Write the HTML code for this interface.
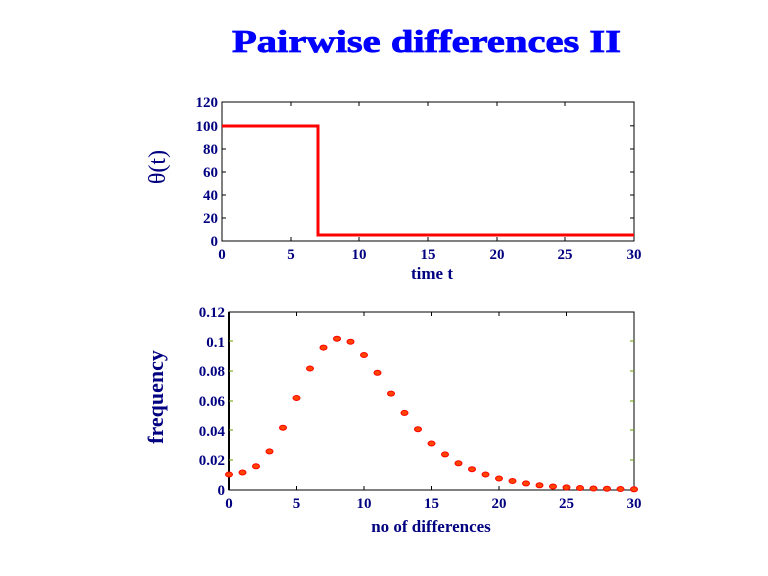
<!DOCTYPE html>
<html><head><meta charset="utf-8"><style>body{margin:0;background:#fff}svg{display:block}</style></head><body>
<svg width="768" height="576" viewBox="0 0 768 576" xmlns="http://www.w3.org/2000/svg" font-family="Liberation Serif, serif" font-weight="bold">
<text x="232" y="52" font-size="32" fill="#0000ff" stroke="#0000ff" stroke-width="0.8" textLength="389" lengthAdjust="spacingAndGlyphs">Pairwise differences II</text>
<!-- top plot -->
<rect x="222" y="102" width="412" height="139" fill="none" stroke="#000" stroke-width="1"/>
<g stroke="#000" stroke-width="1">
<line x1="222" y1="125.8" x2="226" y2="125.8"/><line x1="222" y1="149" x2="226" y2="149"/><line x1="222" y1="172" x2="226" y2="172"/><line x1="222" y1="195" x2="226" y2="195"/><line x1="222" y1="218" x2="226" y2="218"/>
<line x1="634" y1="125.8" x2="630" y2="125.8"/><line x1="634" y1="149" x2="630" y2="149"/><line x1="634" y1="172" x2="630" y2="172"/><line x1="634" y1="195" x2="630" y2="195"/><line x1="634" y1="218" x2="630" y2="218"/>
<line x1="291" y1="241" x2="291" y2="237"/><line x1="359" y1="241" x2="359" y2="237"/><line x1="428" y1="241" x2="428" y2="237"/><line x1="497" y1="241" x2="497" y2="237"/><line x1="565" y1="241" x2="565" y2="237"/>
<line x1="291" y1="102" x2="291" y2="106"/><line x1="359" y1="102" x2="359" y2="106"/><line x1="428" y1="102" x2="428" y2="106"/><line x1="497" y1="102" x2="497" y2="106"/><line x1="565" y1="102" x2="565" y2="106"/>
</g>
<polyline points="222,126 318,126 318,235 634,235" fill="none" stroke="#ff0000" stroke-width="3"/>
<g font-size="15" fill="#000080" text-anchor="end">
<text x="218" y="107">120</text><text x="218" y="131">100</text><text x="218" y="154">80</text><text x="218" y="177">60</text><text x="218" y="200">40</text><text x="218" y="223">20</text><text x="218" y="246">0</text>
</g>
<g font-size="15" fill="#000080" text-anchor="middle">
<text x="222" y="259">0</text><text x="291" y="259">5</text><text x="359" y="259">10</text><text x="428" y="259">15</text><text x="497" y="259">20</text><text x="565" y="259">25</text><text x="634" y="259">30</text>
</g>
<text x="432" y="279" font-size="17" fill="#000080" text-anchor="middle">time t</text>
<text transform="translate(165,167) rotate(-90)" font-size="24" font-weight="normal" fill="#000080" text-anchor="middle">θ(t)</text>
<!-- bottom plot -->
<rect x="229" y="312" width="405" height="178" fill="none" stroke="#000" stroke-width="1"/>
<line x1="229" y1="312" x2="229" y2="490" stroke="#000" stroke-width="2"/>
<g stroke="#000" stroke-width="1">
<line x1="296.5" y1="490" x2="296.5" y2="486"/><line x1="364" y1="490" x2="364" y2="486"/><line x1="431.5" y1="490" x2="431.5" y2="486"/><line x1="499" y1="490" x2="499" y2="486"/><line x1="566.5" y1="490" x2="566.5" y2="486"/>
<line x1="296.5" y1="312" x2="296.5" y2="316"/><line x1="364" y1="312" x2="364" y2="316"/><line x1="431.5" y1="312" x2="431.5" y2="316"/><line x1="499" y1="312" x2="499" y2="316"/><line x1="566.5" y1="312" x2="566.5" y2="316"/>
</g>
<g stroke="#669900" stroke-width="1">
<line x1="229" y1="460" x2="233" y2="460"/><line x1="229" y1="430" x2="233" y2="430"/><line x1="229" y1="401" x2="233" y2="401"/><line x1="229" y1="371" x2="233" y2="371"/><line x1="229" y1="341" x2="233" y2="341"/>
<line x1="634" y1="460" x2="630" y2="460"/><line x1="634" y1="430" x2="630" y2="430"/><line x1="634" y1="401" x2="630" y2="401"/><line x1="634" y1="371" x2="630" y2="371"/><line x1="634" y1="341" x2="630" y2="341"/>
</g>
<g font-size="15" fill="#000080" text-anchor="end">
<text x="225" y="317">0.12</text><text x="225" y="347">0.1</text><text x="225" y="376">0.08</text><text x="225" y="406">0.06</text><text x="225" y="436">0.04</text><text x="225" y="465">0.02</text><text x="225" y="495">0</text>
</g>
<g font-size="15" fill="#000080" text-anchor="middle">
<text x="229" y="508">0</text><text x="296.5" y="508">5</text><text x="364" y="508">10</text><text x="431.5" y="508">15</text><text x="499" y="508">20</text><text x="566.5" y="508">25</text><text x="634" y="508">30</text>
</g>
<text x="431" y="532" font-size="17" fill="#000080" text-anchor="middle">no of differences</text>
<text transform="translate(163,397) rotate(-90)" font-size="22" fill="#000080" text-anchor="middle">frequency</text>
<g fill="#ff4400" stroke="#ff0000" stroke-width="1">
<ellipse cx="229" cy="474.5" rx="3.5" ry="2.5"/>
<ellipse cx="242.5" cy="472.5" rx="3.5" ry="2.5"/>
<ellipse cx="256" cy="466.3" rx="3.5" ry="2.5"/>
<ellipse cx="269.5" cy="451.4" rx="3.5" ry="2.5"/>
<ellipse cx="283" cy="427.7" rx="3.5" ry="2.5"/>
<ellipse cx="296.5" cy="398" rx="3.5" ry="2.5"/>
<ellipse cx="310" cy="368.5" rx="3.5" ry="2.5"/>
<ellipse cx="323.5" cy="347.6" rx="3.5" ry="2.5"/>
<ellipse cx="337" cy="338.7" rx="3.5" ry="2.5"/>
<ellipse cx="350.5" cy="341.7" rx="3.5" ry="2.5"/>
<ellipse cx="364" cy="355" rx="3.5" ry="2.5"/>
<ellipse cx="377.5" cy="372.8" rx="3.5" ry="2.5"/>
<ellipse cx="391" cy="393.6" rx="3.5" ry="2.5"/>
<ellipse cx="404.5" cy="412.9" rx="3.5" ry="2.5"/>
<ellipse cx="418" cy="429.2" rx="3.5" ry="2.5"/>
<ellipse cx="431.5" cy="443.5" rx="3.5" ry="2.5"/>
<ellipse cx="445" cy="454.4" rx="3.5" ry="2.5"/>
<ellipse cx="458.5" cy="463.3" rx="3.5" ry="2.5"/>
<ellipse cx="472" cy="469.2" rx="3.5" ry="2.5"/>
<ellipse cx="485.5" cy="474.5" rx="3.5" ry="2.5"/>
<ellipse cx="499" cy="478.5" rx="3.5" ry="2.5"/>
<ellipse cx="512.5" cy="481" rx="3.5" ry="2.5"/>
<ellipse cx="526" cy="483.4" rx="3.5" ry="2.5"/>
<ellipse cx="539.5" cy="485.3" rx="3.5" ry="2.5"/>
<ellipse cx="553" cy="486.5" rx="3.5" ry="2.5"/>
<ellipse cx="566.5" cy="487.4" rx="3.5" ry="2.5"/>
<ellipse cx="580" cy="488" rx="3.5" ry="2.5"/>
<ellipse cx="593.5" cy="488.5" rx="3.5" ry="2.5"/>
<ellipse cx="607" cy="488.7" rx="3.5" ry="2.5"/>
<ellipse cx="620.5" cy="489" rx="3.5" ry="2.5"/>
<ellipse cx="634" cy="489.3" rx="3.5" ry="2.5"/>
</g>
</svg>
</body></html>
